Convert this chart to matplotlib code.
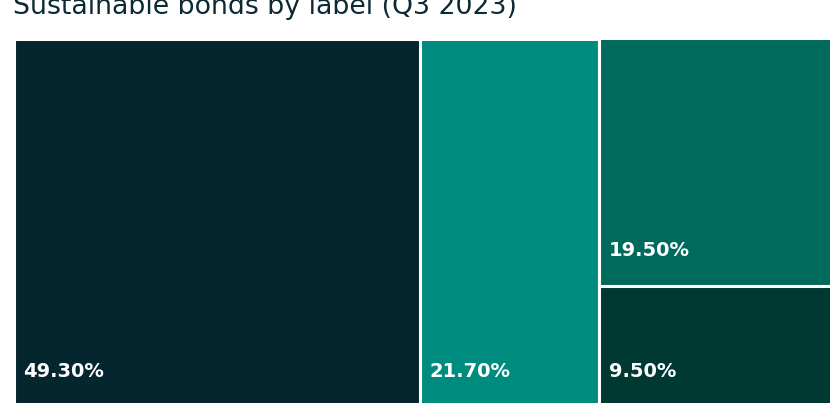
import matplotlib
matplotlib.use("Agg")
import matplotlib.pyplot as plt

# data
labels = ["Green", "Social", "Sustainability", "Sustainability-linked"]
shares = [49.3, 21.7, 19.5, 9.5]
colors = ["#05252f", "#008b7f", "#006a5c", "#003832"]
title = "Sustainable bonds by label (Q3 2023)"

W, H, DPI = 830, 403, 100
fig = plt.figure(figsize=(W / DPI, H / DPI), dpi=DPI)

# treemap area in px (reference is cropped on the right and bottom)
left, right, top, bottom = 13.5, 838.5, 38.5, 406.5
ax = fig.add_axes([left / W, (H - bottom) / H, (right - left) / W, (bottom - top) / H])
ax.set_xlim(0, sum(shares))
ax.set_ylim(0, 1)
ax.axis("off")


def box(x, y, w, h, c, val):
    ax.bar(x, h, width=w, bottom=y, align="edge",
           color=c, edgecolor="white", linewidth=2.2, clip_on=False)
    ax.annotate("%.2f%%" % val, xy=(x, y), xytext=(9.5, 29.5),
                textcoords="offset pixels", color="white", fontsize=14,
                fontweight="bold", ha="left", va="baseline")


# first two items are full columns, the rest stacked in the last column
x0 = 0
for i in range(2):
    box(x0, 0, shares[i], 1, colors[i], shares[i])
    x0 += shares[i]

rest = sum(shares[2:])
y_top = 1
for i in range(2, len(shares)):
    h = shares[i] / rest
    box(x0, y_top - h, rest, h, colors[i], shares[i])
    y_top -= h

fig.text(12.5 / W, 1 - 14.5 / H, title, fontsize=19.3, color="#0b2a33",
         ha="left", va="baseline")

fig.savefig("out.png", dpi=DPI)
